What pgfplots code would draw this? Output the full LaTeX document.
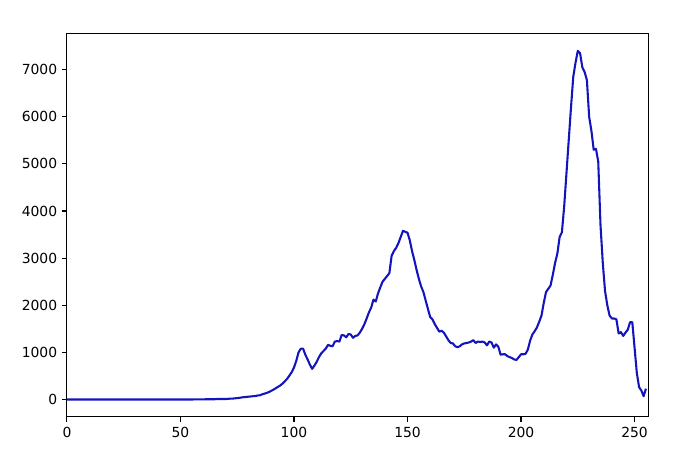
\documentclass[border=0pt]{standalone}
\usepackage{fontspec}
\setmainfont{DejaVu Sans}
\usepackage{pgfplots}
\pgfplotsset{compat=1.18}
\definecolor{histblue}{RGB}{20,20,190}
\begin{document}
\begin{tikzpicture}
\begin{axis}[
  at={(0,0)}, anchor=south west,
  scale only axis,
  width=418.5pt, height=276pt,
  xmin=0, xmax=256,
  ymin=-370, ymax=7766,
  xtick={0,50,100,150,200,250},
  ytick={0,1000,2000,3000,4000,5000,6000,7000},
  tick align=outside,
  tick pos=left,
  major tick length=3.5pt,
  every tick/.style={black, line width=0.8pt},
  axis line style={black, line width=0.8pt},
  tick label style={font=\fontsize{10}{12}\selectfont, black},
  /pgf/number format/assume math mode=true,
  /pgf/number format/1000 sep={},
  clip=true,
]
\addplot[histblue, line width=1.5pt, line join=round] coordinates {
(0,0)(10,0)(20,0)(30,0)(40,0)(50,0)(55,0)(56,2)(58,2)(60,2)(61,5)(63,5)(65,5)(66,10)(68,10)(70,10)
(71,15)(72,18)(73,20)(74,25)(75,30)(76,35)(77,45)(78,50)(79,55)(80,60)
(81,65)(82,70)(83,75)(84,85)(85,90)(86,110)(87,125)(88,140)(89,160)(90,185)
(91,210)(92,240)(93,270)(94,300)(95,340)(96,390)(97,440)(98,510)(99,580)(100,680)
(101,820)(102,1000)(103,1080)(104,1080)(105,950)(106,850)(107,740)(108,650)(109,720)(110,800)
(111,900)(112,980)(113,1030)(114,1080)(115,1160)(116,1140)(117,1130)(118,1230)(119,1240)(120,1230)
(121,1370)(122,1360)(123,1320)(124,1390)(125,1380)(126,1310)(127,1350)(128,1360)(129,1420)(130,1500)
(131,1600)(132,1720)(133,1850)(134,1950)(135,2120)(136,2080)(137,2250)(138,2380)(139,2500)(140,2560)
(141,2620)(142,2680)(143,3050)(144,3150)(145,3220)(146,3320)(147,3450)(148,3580)(149,3560)(150,3540)
(151,3380)(152,3150)(153,2960)(154,2750)(155,2560)(156,2400)(157,2280)(158,2100)(159,1920)(160,1750)
(161,1700)(162,1600)(163,1520)(164,1440)(165,1460)(166,1420)(167,1340)(168,1260)(169,1200)(170,1190)
(171,1130)(172,1110)(173,1130)(174,1170)(175,1190)(176,1200)(177,1210)(178,1230)(179,1260)(180,1200)
(181,1230)(182,1220)(183,1230)(184,1210)(185,1150)(186,1230)(187,1210)(188,1100)(189,1170)(190,1120)
(191,950)(192,960)(193,960)(194,920)(195,900)(196,880)(197,850)(198,840)(199,900)(200,960)
(201,960)(202,970)(203,1060)(204,1250)(205,1380)(206,1450)(207,1530)(208,1650)(209,1780)(210,2050)
(211,2280)(212,2350)(213,2420)(214,2650)(215,2900)(216,3100)(217,3450)(218,3550)(219,4100)(220,4800)
(221,5500)(222,6200)(223,6850)(224,7150)(225,7400)(226,7350)(227,7050)(228,6950)(229,6780)(230,6000)
(231,5700)(232,5300)(233,5320)(234,5050)(235,3700)(236,2900)(237,2300)(238,2000)(239,1780)(240,1720)
(241,1720)(242,1700)(243,1400)(244,1430)(245,1350)(246,1420)(247,1480)(248,1640)(249,1640)(250,1100)
(251,560)(252,260)(253,190)(254,70)(255,230)
};
\end{axis}
\path[use as bounding box] (-48.2pt,-31.7pt) rectangle (455.8pt,300.2pt);
\end{tikzpicture}
\end{document}
